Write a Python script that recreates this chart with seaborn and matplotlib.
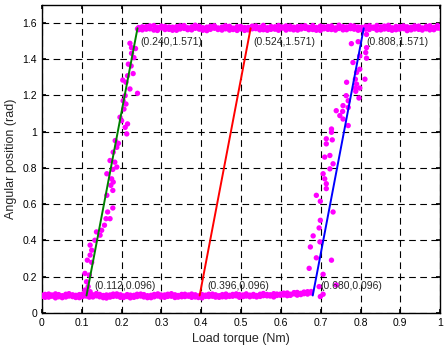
import matplotlib
matplotlib.use("Agg")
import matplotlib.pyplot as plt
import seaborn as sns
import pandas as pd

# measured points: lower plateau, first rise, upper plateau, second rise
low_x = [0.000, 0.008, 0.017, 0.025, 0.034, 0.042, 0.051, 0.060, 0.068, 0.077,
         0.085, 0.094, 0.102, 0.111, 0.119, 0.128, 0.137, 0.145, 0.154, 0.162,
         0.171, 0.179, 0.188, 0.197, 0.205, 0.214, 0.222, 0.231, 0.239, 0.248,
         0.256, 0.265, 0.274, 0.282, 0.291, 0.299, 0.308, 0.316, 0.325, 0.334,
         0.342, 0.351, 0.359, 0.368, 0.376, 0.385, 0.393, 0.402, 0.411, 0.419,
         0.428, 0.436, 0.445, 0.453, 0.462, 0.471, 0.479, 0.488, 0.496, 0.505,
         0.513, 0.522, 0.531, 0.539, 0.548, 0.556, 0.565, 0.573, 0.582, 0.590,
         0.599, 0.607, 0.616, 0.624, 0.633, 0.641, 0.650, 0.658, 0.667, 0.676]
low_y = [0.098, 0.086, 0.104, 0.092, 0.083, 0.101, 0.095, 0.088, 0.106, 0.090,
         0.097, 0.084, 0.103, 0.093, 0.087, 0.100, 0.107, 0.089, 0.096, 0.082,
         0.099, 0.091, 0.105, 0.086, 0.094, 0.101, 0.083, 0.097, 0.090, 0.104,
         0.088, 0.095, 0.084, 0.102, 0.093, 0.087, 0.099, 0.091, 0.106, 0.085,
         0.096, 0.089, 0.103, 0.092, 0.086, 0.100, 0.094, 0.083, 0.098, 0.090,
         0.104, 0.087, 0.095, 0.101, 0.088, 0.097, 0.092, 0.105, 0.086, 0.099,
         0.093, 0.089, 0.102, 0.096, 0.091, 0.107, 0.094, 0.100, 0.088, 0.104,
         0.097, 0.109, 0.095, 0.103, 0.112, 0.098, 0.108, 0.115, 0.104, 0.118]
low_y2 = [0.091, 0.102, 0.087, 0.099, 0.105, 0.089, 0.084, 0.103, 0.093, 0.100,
          0.085, 0.101, 0.090, 0.106, 0.098, 0.088, 0.094, 0.102, 0.084, 0.099,
          0.087, 0.104, 0.092, 0.100, 0.085, 0.090, 0.098, 0.086, 0.103, 0.093,
          0.101, 0.084, 0.097, 0.089, 0.105, 0.099, 0.086, 0.103, 0.092, 0.100,
          0.087, 0.102, 0.090, 0.099, 0.104, 0.088, 0.085, 0.101, 0.091, 0.103,
          0.092, 0.100, 0.086, 0.089, 0.104, 0.091, 0.102, 0.094, 0.101, 0.090,
          0.105, 0.098, 0.092, 0.088, 0.103, 0.095, 0.102, 0.093, 0.106, 0.096,
          0.104, 0.099, 0.110, 0.097, 0.105, 0.113, 0.101, 0.106, 0.117, 0.110]

rise1_x = [0.240, 0.221, 0.225, 0.235, 0.225, 0.231, 0.217, 0.224, 0.229, 0.215,
           0.203, 0.211, 0.221, 0.240, 0.209, 0.204, 0.211, 0.206, 0.196, 0.200,
           0.215, 0.209, 0.213, 0.184, 0.192, 0.188, 0.179, 0.171, 0.183, 0.188,
           0.178, 0.163, 0.175, 0.179, 0.173, 0.178, 0.163, 0.178, 0.165, 0.161,
           0.171, 0.157, 0.150, 0.137, 0.146, 0.133, 0.121, 0.125, 0.121, 0.114,
           0.125, 0.108, 0.119, 0.112, 0.116, 0.108, 0.121]
rise1_y = [1.568, 1.488, 1.464, 1.459, 1.433, 1.409, 1.373, 1.363, 1.321, 1.309,
           1.285, 1.273, 1.236, 1.212, 1.199, 1.171, 1.153, 1.125, 1.080, 1.061,
           1.043, 1.024, 0.988, 0.951, 0.936, 0.914, 0.887, 0.841, 0.832, 0.805,
           0.792, 0.768, 0.740, 0.722, 0.704, 0.676, 0.649, 0.579, 0.557, 0.520,
           0.520, 0.484, 0.456, 0.447, 0.429, 0.401, 0.374, 0.346, 0.319, 0.291,
           0.279, 0.218, 0.209, 0.172, 0.145, 0.126, 0.117]

high_x = [0.243, 0.252, 0.262, 0.271, 0.281, 0.290, 0.300, 0.309, 0.319, 0.328,
          0.338, 0.347, 0.357, 0.366, 0.376, 0.385, 0.395, 0.404, 0.414, 0.423,
          0.433, 0.442, 0.452, 0.461, 0.471, 0.480, 0.490, 0.499, 0.509, 0.518,
          0.528, 0.537, 0.547, 0.556, 0.566, 0.575, 0.585, 0.594, 0.604, 0.613,
          0.623, 0.632, 0.642, 0.651, 0.661, 0.670, 0.680, 0.689, 0.699, 0.708,
          0.718, 0.727, 0.737, 0.746, 0.756, 0.765, 0.775, 0.784, 0.794, 0.803,
          0.813, 0.822, 0.832, 0.841, 0.851, 0.860, 0.870, 0.879, 0.889, 0.898,
          0.908, 0.917, 0.927, 0.936, 0.946, 0.955, 0.965, 0.974, 0.984, 0.993,
          1.000]
high_y = [1.575, 1.562, 1.580, 1.568, 1.586, 1.559, 1.573, 1.581, 1.565, 1.577,
          1.560, 1.584, 1.570, 1.563, 1.579, 1.588, 1.566, 1.574, 1.558, 1.582,
          1.571, 1.564, 1.578, 1.585, 1.561, 1.572, 1.580, 1.567, 1.559, 1.576,
          1.583, 1.569, 1.562, 1.587, 1.574, 1.565, 1.579, 1.560, 1.572, 1.584,
          1.566, 1.577, 1.561, 1.582, 1.570, 1.563, 1.586, 1.575, 1.559, 1.568,
          1.581, 1.564, 1.573, 1.588, 1.562, 1.578, 1.569, 1.583, 1.560, 1.576,
          1.566, 1.585, 1.571, 1.561, 1.579, 1.567, 1.587, 1.574, 1.563, 1.580,
          1.569, 1.558, 1.577, 1.584, 1.565, 1.573, 1.582, 1.562, 1.576, 1.586,
          1.570]
high_y2 = [1.563, 1.579, 1.566, 1.584, 1.561, 1.576, 1.583, 1.564, 1.578, 1.560,
           1.580, 1.567, 1.586, 1.574, 1.562, 1.571, 1.582, 1.560, 1.577, 1.565,
           1.585, 1.573, 1.561, 1.568, 1.582, 1.564, 1.559, 1.581, 1.575, 1.562,
           1.568, 1.584, 1.577, 1.563, 1.560, 1.581, 1.566, 1.586, 1.578, 1.561,
           1.583, 1.562, 1.580, 1.567, 1.585, 1.576, 1.564, 1.560, 1.583, 1.579,
           1.565, 1.584, 1.561, 1.570, 1.580, 1.563, 1.586, 1.566, 1.578, 1.562,
           1.582, 1.564, 1.577, 1.586, 1.562, 1.583, 1.565, 1.560, 1.581, 1.566,
           1.584, 1.579, 1.562, 1.567, 1.583, 1.561, 1.568, 1.585, 1.563, 1.572,
           1.580]

rise2_x = [0.802, 0.815, 0.777, 0.794, 0.815, 0.813, 0.815, 0.798, 0.781, 0.798,
           0.790, 0.787, 0.811, 0.765, 0.790, 0.787, 0.798, 0.788, 0.796, 0.764,
           0.769, 0.756, 0.769, 0.755, 0.739, 0.748, 0.756, 0.769, 0.727, 0.727,
           0.714, 0.729, 0.714, 0.723, 0.710, 0.731, 0.723, 0.706, 0.710, 0.714,
           0.714, 0.689, 0.699, 0.731, 0.699, 0.696, 0.681, 0.698, 0.674, 0.689,
           0.727, 0.671, 0.706, 0.739, 0.696, 0.706, 0.699]
rise2_y = [1.574, 1.537, 1.486, 1.497, 1.464, 1.437, 1.406, 1.418, 1.382, 1.345,
           1.327, 1.290, 1.290, 1.273, 1.263, 1.241, 1.241, 1.223, 1.186, 1.199,
           1.171, 1.144, 1.134, 1.112, 1.116, 1.089, 1.070, 1.034, 1.015, 0.997,
           0.961, 0.955, 0.933, 0.869, 0.860, 0.823, 0.795, 0.768, 0.740, 0.713,
           0.686, 0.649, 0.616, 0.557, 0.511, 0.469, 0.425, 0.392, 0.364, 0.304,
           0.291, 0.246, 0.213, 0.154, 0.145, 0.103, 0.090]

# fitted lines: (start torque, end torque), shared angle range
fit_x = [[0.112, 0.240], [0.396, 0.524], [0.680, 0.808]]
fit_y = [0.096, 1.571]
fit_colors = ["green", "red", "blue"]

pts = pd.DataFrame({
    "torque": low_x + low_x + rise1_x + high_x + high_x + rise2_x,
    "angle": low_y + low_y2 + rise1_y + high_y + high_y2 + rise2_y,
})

sns.set_theme(style="white")
plt.rcParams["font.family"] = ["Liberation Sans", "DejaVu Sans"]

fig = plt.figure(figsize=(4.46, 3.5), dpi=100)
ax = fig.add_axes([0.094, 0.106, 0.893, 0.880])

sns.scatterplot(data=pts, x="torque", y="angle", ax=ax, color="magenta",
                s=15, edgecolor="none", linewidth=0, zorder=3, clip_on=True)

for (x0, x1), c in zip(fit_x, fit_colors):
    sns.lineplot(x=[x0, x1], y=fit_y, ax=ax, color=c, linewidth=1.4, zorder=4)
    ax.text(x0 + 0.019, fit_y[0] + 0.052, f"({x0:.3f},{fit_y[0]:.3f})",
            fontsize=7.5, va="center", ha="left", zorder=5)
    ax.text(x1 + 0.007, fit_y[1] - 0.074, f"({x1:.3f},{fit_y[1]:.3f})",
            fontsize=7.5, va="center", ha="left", zorder=5)

ax.set_xlim(0, 1)
ax.set_ylim(0, 1.7)
ax.set_xticks([i / 10 for i in range(11)])
ax.set_yticks([i / 5 for i in range(9)])
ax.set_xticklabels([f"{i / 10:g}" for i in range(11)])
ax.set_yticklabels([f"{i / 5:g}" for i in range(9)])
ax.tick_params(direction="in", length=3, labelsize=7.5, colors="black",
               top=True, right=True, bottom=True, left=True)
ax.grid(True, color="black", linestyle=(0, (6, 4)), linewidth=0.8)
ax.set_axisbelow(True)
for sp in ax.spines.values():
    sp.set_color("black")
    sp.set_linewidth(1.0)

ax.set_xlabel("Load torque (Nm)", fontsize=9, labelpad=4)
ax.set_ylabel("Angular position (rad)", fontsize=9, labelpad=4)

fig.savefig("out.png", dpi=100)
